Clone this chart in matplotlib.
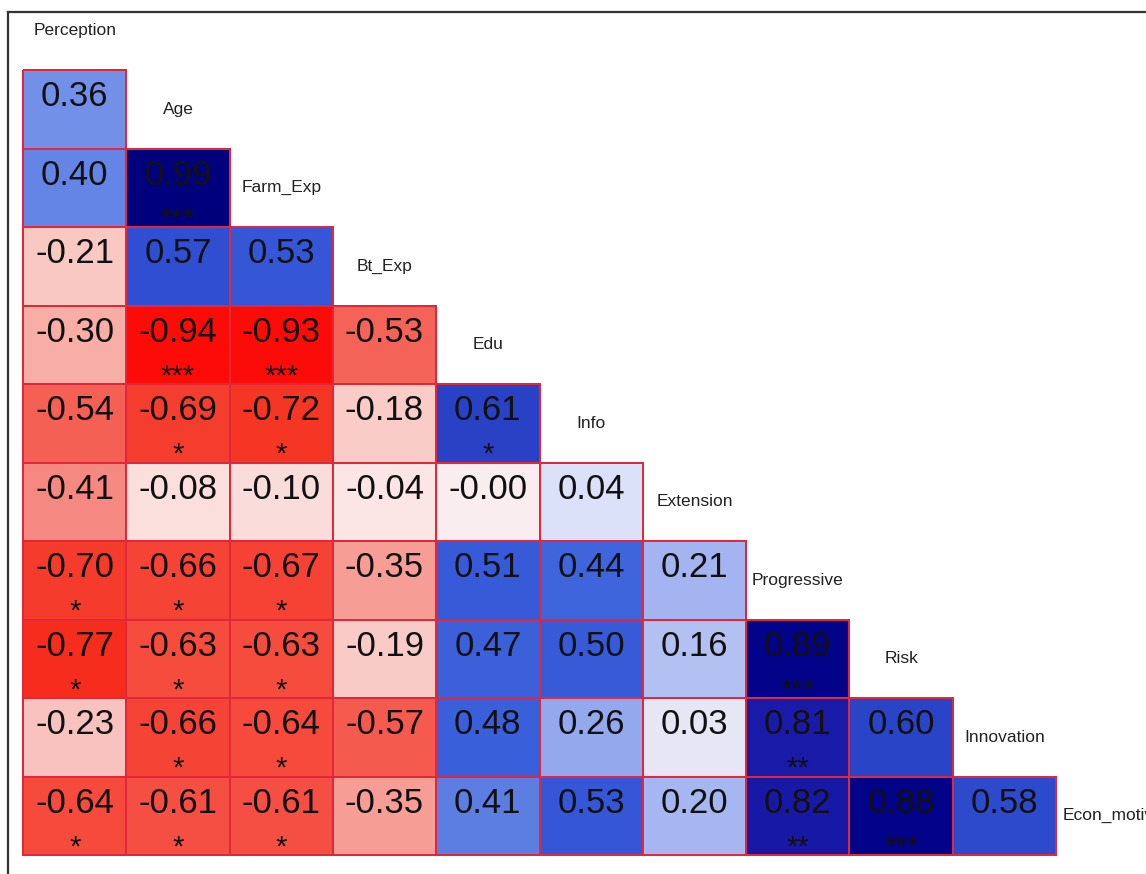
import numpy as np
import matplotlib
matplotlib.use("Agg")
import matplotlib.pyplot as plt
from matplotlib.colors import LinearSegmentedColormap, Normalize
from matplotlib.lines import Line2D

plt.rcParams['font.family'] = ['Liberation Sans', 'DejaVu Sans']

names = ['Perception', 'Age', 'Farm_Exp', 'Bt_Exp', 'Edu', 'Info', 'Extension',
         'Progressive', 'Risk', 'Innovation', 'Econ_motivation']

# lower triangle, one row per variable from Age down
r_age = [0.36]
r_farm = [0.40, 0.99]
r_bt = [-0.21, 0.57, 0.53]
r_edu = [-0.30, -0.94, -0.93, -0.53]
r_info = [-0.54, -0.69, -0.72, -0.18, 0.61]
r_ext = [-0.41, -0.08, -0.10, -0.04, -0.0, 0.04]
r_prog = [-0.70, -0.66, -0.67, -0.35, 0.51, 0.44, 0.21]
r_risk = [-0.77, -0.63, -0.63, -0.19, 0.47, 0.50, 0.16, 0.89]
r_innov = [-0.23, -0.66, -0.64, -0.57, 0.48, 0.26, 0.03, 0.81, 0.60]
r_econ = [-0.64, -0.61, -0.61, -0.35, 0.41, 0.53, 0.20, 0.82, 0.88, 0.58]
rows = [r_age, r_farm, r_bt, r_edu, r_info, r_ext, r_prog, r_risk, r_innov, r_econ]

s_age = ['']
s_farm = ['', '***']
s_bt = ['', '', '']
s_edu = ['', '***', '***', '']
s_info = ['', '*', '*', '', '*']
s_ext = ['', '', '', '', '', '']
s_prog = ['*', '*', '*', '', '', '', '']
s_risk = ['*', '*', '*', '', '', '', '', '***']
s_innov = ['', '*', '*', '', '', '', '', '**', '']
s_econ = ['*', '*', '*', '', '', '', '', '**', '***', '']
stars = [s_age, s_farm, s_bt, s_edu, s_info, s_ext, s_prog, s_risk, s_innov, s_econ]

n = len(rows)

nodes = [(-1.0, '#FF0000'), (-0.75, '#F5301F'), (-0.5, '#F46A60'), (-0.25, '#F8C0BA'),
         (0.0, '#FCEEEE'), (0.04, '#DCE2F8'), (0.2, '#A6B6F0'), (0.4, '#6888E6'),
         (0.44, '#3E66DC'), (0.55, '#3354D6'), (0.6, '#2A44C8'), (0.7, '#2230B8'),
         (0.82, '#1818A6'), (0.87, '#03038C'), (1.0, '#00007C')]
cmap = LinearSegmentedColormap.from_list('rwb', [((v + 1) / 2, c) for v, c in nodes])
norm = Normalize(-1, 1)

fig = plt.figure(figsize=(11.46, 8.74), dpi=100)
ax = fig.add_axes([0, 0, 1, 1])
for i, r in enumerate(rows):
    ax.pcolormesh(np.arange(len(r) + 1), [i, i + 1], np.array([r]), cmap=cmap,
                  norm=norm, edgecolors='#E0283A', linewidth=1.2)
ax.set_xlim(-0.2227, 10.871)
ax.set_ylim(10.242, -0.892)
ax.axis('off')

for i, r in enumerate(rows):
    for j, v in enumerate(r):
        ax.text(j + 0.5, i + 0.34, '%.2f' % v, ha='center', va='center',
                fontsize=25, color='#111111')
        if stars[i][j]:
            ax.text(j + 0.5, i + 0.90, stars[i][j], ha='center', va='center',
                    fontsize=21, color='#111111')

for k, name in enumerate(names):
    if k == n:
        ax.text(k + 0.06, k - 0.5, name, ha='left', va='center', fontsize=12.5,
                color='#222222', clip_on=False)
    else:
        ax.text(k + 0.5, k - 0.5, name, ha='center', va='center', fontsize=12.5,
                color='#222222')

# outer frame of the original picture
fig.add_artist(Line2D([8 / 1146, 1], [1 - 12 / 874, 1 - 12 / 874], color='#333333', lw=1.6))
fig.add_artist(Line2D([8 / 1146, 8 / 1146], [0, 1 - 12 / 874], color='#333333', lw=1.6))

fig.savefig('out.png', dpi=100)
